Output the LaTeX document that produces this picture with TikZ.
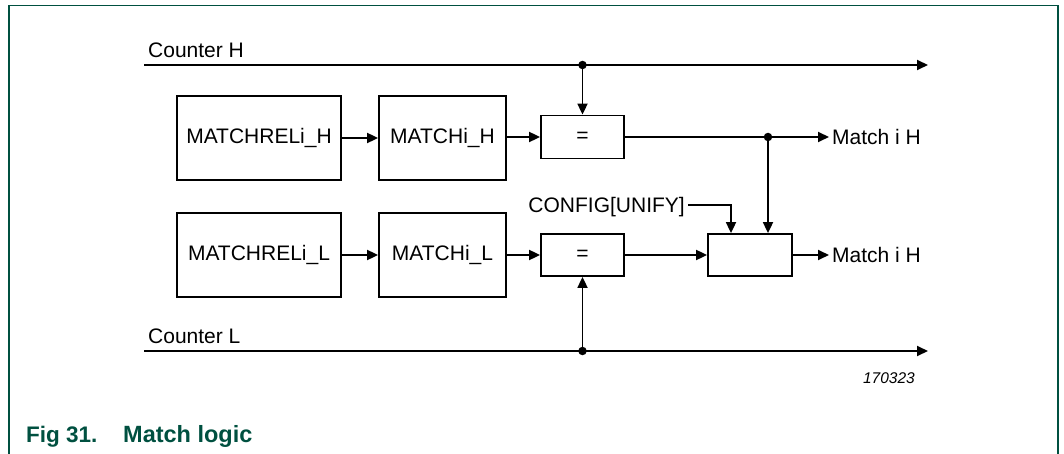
\documentclass[tikz,border=0pt]{standalone}
\usepackage{fontspec}
\setmainfont{Liberation Sans}
\usetikzlibrary{arrows.meta}
\definecolor{nxpgreen}{RGB}{0,80,64}
\tikzset{
  box/.style={draw, line width=1.8pt, inner sep=0pt, font=\fontsize{21}{25}\selectfont},
  arr/.style={line width=1.8pt, -{Triangle[length=11pt,width=10pt]}},
  lbl/.style={inner sep=0pt, font=\fontsize{21}{25}\selectfont},
  dotp/.style={circle, fill, inner sep=0pt, minimum size=8.5pt},
  frame/.style={draw=nxpgreen, line width=1.3pt},
  caption/.style={inner sep=0pt, text=nxpgreen, font=\fontsize{22.5}{26}\selectfont\bfseries},
}
\begin{document}
\begin{tikzpicture}[x=1pt,y=-1pt]
\useasboundingbox (0,0) rectangle (1064,454);
\draw[frame] (9,460) -- (9,5.3) -- (1058,5.3) -- (1058,460);

% boxes
\node[box, minimum width=164pt, minimum height=84pt] (mrH) at (259,138) {MATCHRELi\_H};
\node[box, minimum width=127pt, minimum height=84pt] (mH) at (442.5,138) {MATCHi\_H};
\node[box, minimum width=83pt, minimum height=43pt] (eqH) at (582.5,137) {=};
\node[box, minimum width=164pt, minimum height=84pt] (mrL) at (259,255) {MATCHRELi\_L};
\node[box, minimum width=127pt, minimum height=84pt] (mL) at (442.5,255) {MATCHi\_L};
\node[box, minimum width=83pt, minimum height=42pt] (eqL) at (582.5,255) {=};
\node[box, minimum width=84pt, minimum height=42pt] (uni) at (750,255) {};

% counters
\node[lbl, anchor=base west] (cHt) at (148,58) {Counter H};
\node[lbl, anchor=base west] (cLt) at (148,343) {Counter L};
\coordinate (cHs) at (144,65);
\coordinate (cHe) at (928,65);
\coordinate (cLs) at (144,351);
\coordinate (cLe) at (928,351);
\draw[arr] (cHs) -- (cHe);
\draw[arr] (cLs) -- (cLe);
\node[dotp] (jH) at (582.5,65) {};
\node[dotp] (jL) at (582.5,351) {};
\draw[arr] (jH.center) -- (eqH.north);
\draw[arr] (jL.center) -- (eqL.south);

% chain arrows
\draw[arr] (mrH.east |- 0,138) -- (mH.west |- 0,138);
\draw[arr] (mH.east |- 0,137) -- (eqH.west);
\draw[arr] (mrL.east) -- (mL.west);
\draw[arr] (mL.east) -- (eqL.west);
\draw[arr] (eqL.east) -- (uni.west);

% outputs
\node[lbl, anchor=west, inner sep=3pt] (oH) at (829,137) {Match i H};
\node[lbl, anchor=west, inner sep=3pt] (oL) at (829,255) {Match i H};
\draw[arr] (eqH.east) -- (oH.west);
\draw[arr] (uni.east) -- (oL.west);
\node[dotp] (jO) at (768,137) {};
\draw[arr] (jO.center) -- (jO.center |- uni.north);

% config
\node[lbl, anchor=base east] (cfg) at (685,213) {CONFIG[UNIFY]};
\coordinate (cfgT) at (731,205);
\draw[arr] (cfg.east |- cfgT) ++(3,0) -- (cfgT) -- (cfgT |- uni.north);

% id
\node[inner sep=0pt, anchor=base east, font=\fontsize{15.5}{18}\selectfont\itshape] (idn) at (915,383) {170323};

% caption
\node[caption, anchor=base west] (fig) at (26,442) {Fig 31.};
\node[caption, anchor=base west, font=\fontsize{23.5}{27}\selectfont\bfseries] (title) at (123,442) {Match logic};
\end{tikzpicture}
\end{document}
